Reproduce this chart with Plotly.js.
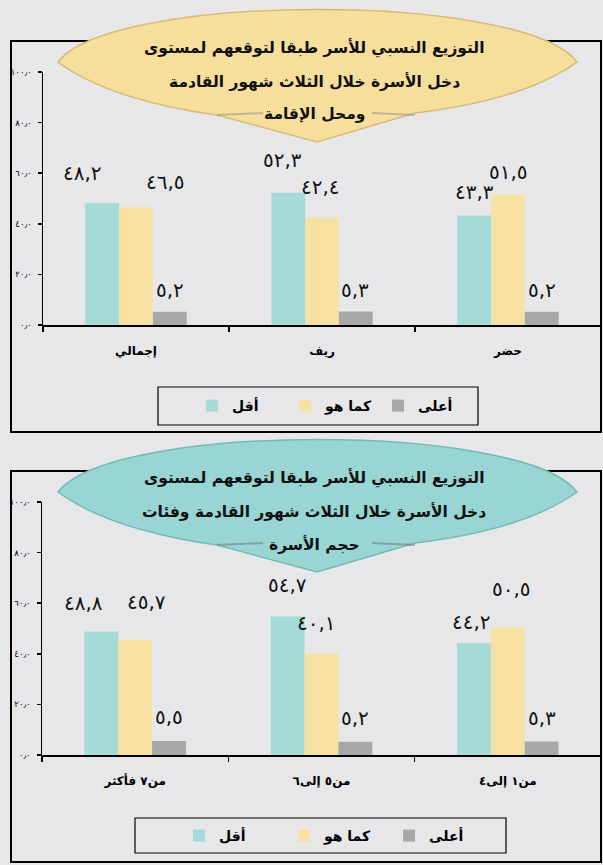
<!DOCTYPE html>
<html>
<head>
<meta charset="utf-8">
<script src="https://cdn.plot.ly/plotly-3.0.1.min.js"></script>
<style>html,body{margin:0;padding:0;background:#e7e7ea;}#chart{width:603px;height:865px;}</style>
</head>
<body>
<div id="chart"></div>
<script>
// ---------- data ----------
const seriesNames = ['أقل', 'كما هو', 'أعلى'];

const categories1 = ['إجمالي', 'ريف', 'حضر'];
const less1 = [48.2, 52.3, 43.3];
const same1 = [46.5, 42.4, 51.5];
const more1 = [5.2, 5.3, 5.2];

const categories2 = ['من٧ فأكثر', 'من٥ إلى٦', 'من١ إلى٤'];
const less2 = [48.8, 54.7, 44.2];
const same2 = [45.7, 40.1, 50.5];
const more2 = [5.5, 5.2, 5.3];

const yTickVals = [0, 20, 40, 60, 80, 100];
const yTickText = ['٠٫٠', '٢٠٫٠', '٤٠٫٠', '٦٠٫٠', '٨٠٫٠', '١٠٠٫٠'];

const title1 = ['التوزيع النسبي للأسر طبقا لتوقعهم لمستوى', 'دخل الأسرة خلال الثلاث شهور القادمة', 'ومحل الإقامة'];
const title2 = ['التوزيع النسبي للأسر طبقا لتوقعهم لمستوى', 'دخل الأسرة خلال الثلاث شهور القادمة وفئات', 'حجم الأسرة'];

// ---------- styling / layout helpers ----------
const W = 603, H = 865;
const px = x => x / W;
const py = y => 1 - y / H;
const colors = ['#a4dbd8', '#f6e1a2', '#a8a8a8'];
const FONT = 'DejaVu Sans';
const BARGAP = 0.455;
const barW = (1 - BARGAP) / 3;

// label nudges in px [dx, up] for each series (layout only)
const nudge1 = [[[-20, 30], [-6, 33], [0, 23]], [[29, 25], [-2, 31], [0, 23]], [[0, 22], [-1, 22], [0, 22]]];
const nudge2 = [[[-18, 29], [0, 32], [-2, 21]], [[11, 37], [-5, 31], [4, 38]], [[0, 24], [0, 24], [0, 24]]];

const toArabic = v => v.toFixed(1).replace('.', ',').replace(/\d/g, d => '٠١٢٣٤٥٦٧٨٩'[+d]);

function makeTraces(cats, series, xa, ya, legendId) {
  return series.map((vals, i) => ({
    type: 'bar', x: cats, y: vals, name: seriesNames[i],
    marker: {color: colors[i]}, xaxis: xa, yaxis: ya, legend: legendId,
    hoverinfo: 'skip'
  }));
}

function makeLabels(series, xref, yref, nudge) {
  const out = [];
  series.forEach((vals, s) => {
    vals.forEach((v, c) => {
      out.push({
        x: c + (s - 1) * barW, y: v, xref: xref, yref: yref,
        text: toArabic(v), showarrow: false,
        xanchor: 'center', yanchor: 'middle',
        xshift: nudge[s][c][0], yshift: nudge[s][c][1],
        font: {family: FONT, size: 20, color: '#111'}
      });
    });
  });
  return out;
}

function titleLines(lines, dy) {
  const ys = [48, 81, 114];
  return lines.map((t, i) => ({
    x: px(314), y: py(ys[i] + dy), xref: 'paper', yref: 'paper',
    text: '<b>' + t + '</b>', showarrow: false, xanchor: 'center', yanchor: 'middle',
    font: {family: FONT, size: 15.5, color: '#111'}
  }));
}

function calloutPath(dy) {
  const P = (x, y) => px(x).toFixed(4) + ',' + py(y + dy).toFixed(4);
  return 'M' + P(58, 62) + ' C' + P(110, -8) + ' ' + P(525, -8) + ' ' + P(577, 62) +
    ' Q' + P(524, 100) + ' ' + P(415, 113) + ' L' + P(317, 142) + ' L' + P(217, 115) +
    ' Q' + P(110, 100) + ' ' + P(58, 62) + ' Z';
}

function rect(x0, y0, x1, y1, w) {
  return {type: 'rect', xref: 'paper', yref: 'paper', x0: px(x0), x1: px(x1), y0: py(y1), y1: py(y0),
    line: {color: '#000', width: w}, fillcolor: 'rgba(0,0,0,0)', layer: 'below'};
}
function seg(x0, y0, x1, y1, color) {
  return {type: 'line', xref: 'paper', yref: 'paper', x0: px(x0), x1: px(x1), y0: py(y0), y1: py(y1),
    line: {color: color, width: 2}};
}

const traces = [
  ...makeTraces(categories1, [less1, same1, more1], 'x', 'y', 'legend'),
  ...makeTraces(categories2, [less2, same2, more2], 'x2', 'y2', 'legend2')
];

const xaxisBase = {
  type: 'category', showline: true, linecolor: '#000', linewidth: 2,
  ticks: 'outside', tickson: 'boundaries', ticklen: 5, tickwidth: 1.5, tickcolor: '#000',
  showgrid: false, zeroline: false, ticklabelstandoff: 14,
  tickfont: {family: FONT, size: 12, color: '#000', weight: 'bold'}, fixedrange: true
};
const yaxisBase = {
  range: [0, 100], tickvals: yTickVals, ticktext: yTickText,
  showline: true, linecolor: '#000', linewidth: 1.5,
  ticks: 'outside', ticklen: 4, tickwidth: 1.5, tickcolor: '#000',
  showgrid: false, zeroline: false, ticklabelstandoff: 4,
  tickfont: {family: FONT, size: 8.5, color: '#000'}, fixedrange: true
};

const legendBase = {
  orientation: 'h', xanchor: 'left', yanchor: 'middle', bgcolor: 'rgba(0,0,0,0)', borderwidth: 0,
  font: {family: FONT, size: 14, color: '#000', weight: 'bold'}, traceorder: 'normal',
  entrywidthmode: 'pixels'
};

const layout = {
  width: W, height: H, margin: {l: 0, r: 0, t: 0, b: 0},
  paper_bgcolor: '#e7e7ea', plot_bgcolor: 'rgba(0,0,0,0)',
  barmode: 'group', bargap: BARGAP, bargroupgap: 0,
  xaxis: Object.assign({}, xaxisBase, {domain: [px(43), px(601)], anchor: 'y'}),
  yaxis: Object.assign({}, yaxisBase, {domain: [py(325), py(72)], anchor: 'x'}),
  xaxis2: Object.assign({}, xaxisBase, {domain: [px(42), px(601)], anchor: 'y2'}),
  yaxis2: Object.assign({}, yaxisBase, {domain: [py(755), py(502)], anchor: 'x2'}),
  legend: Object.assign({}, legendBase, {x: px(192), y: py(406), entrywidth: 48}),
  legend2: Object.assign({}, legendBase, {x: px(179), y: py(836), entrywidth: 60}),
  showlegend: true,
  shapes: [
    rect(11, 41, 601, 432, 2),
    rect(11, 471, 601, 862, 2),
    rect(158, 387, 478, 425, 1.2),
    rect(135, 818, 506, 853, 1.2),
    {type: 'path', xref: 'paper', yref: 'paper', path: calloutPath(0), fillcolor: '#f6df9d', line: {color: '#d8bb76', width: 1.5}},
    seg(217, 115, 263, 113, 'rgba(140,140,140,0.5)'),
    seg(372, 113, 415, 115, 'rgba(140,140,140,0.5)'),
    {type: 'path', xref: 'paper', yref: 'paper', path: calloutPath(430), fillcolor: '#98d5d3', line: {color: '#73bbb8', width: 1.5}},
    seg(217, 545, 263, 543, 'rgba(110,110,110,0.5)'),
    seg(372, 543, 415, 545, 'rgba(110,110,110,0.5)')
  ],
  annotations: [
    ...titleLines(title1, 0),
    ...titleLines(title2, 430),
    ...makeLabels([less1, same1, more1], 'x', 'y', nudge1),
    ...makeLabels([less2, same2, more2], 'x2', 'y2', nudge2)
  ]
};

Plotly.newPlot('chart', traces, layout, {displayModeBar: false, staticPlot: true});
</script>
</body>
</html>
